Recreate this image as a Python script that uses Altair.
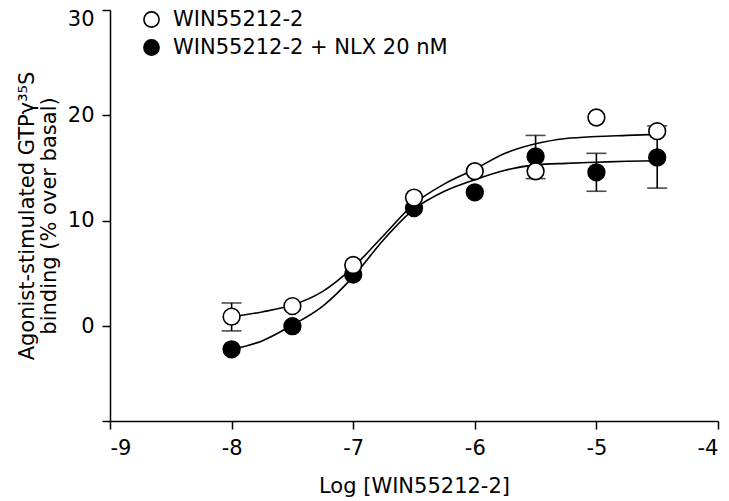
import altair as alt
import pandas as pd

# --- data ---
series_names = ["WIN55212-2", "WIN55212-2 + NLX 20 nM"]
x_vals = [-8, -7.5, -7, -6.5, -6, -5.5, -5, -4.5]
open_y = [0.9, 1.9, 5.8, 12.2, 14.7, 14.7, 19.8, 18.5]
filled_y = [-2.2, 0.0, 4.9, 11.2, 12.7, 16.1, 14.6, 16.0]

# error bars (series, x, low, high)
err_series = ["WIN55212-2", "WIN55212-2 + NLX 20 nM", "WIN55212-2 + NLX 20 nM", "WIN55212-2 + NLX 20 nM"]
err_x = [-8, -5.5, -5, -4.5]
err_lo = [-0.45, 14.0, 12.8, 13.1]
err_hi = [2.2, 18.1, 16.4, 19.0]

# fitted curves
curve_x = [-8, -7.75, -7.5, -7.25, -7, -6.75, -6.5, -6.25, -6, -5.75, -5.5, -5.25, -5, -4.75, -4.5]
curve_open = [0.9, 1.35, 2.0, 3.3, 5.6, 8.6, 11.6, 13.5, 14.9, 16.4, 17.3, 17.8, 18.0, 18.1, 18.2]
curve_filled = [-2.2, -1.4, 0.1, 1.9, 4.7, 8.2, 11.1, 12.8, 13.9, 14.8, 15.3, 15.45, 15.55, 15.65, 15.7]

y_ticks = [-9, 0, 10, 20, 30]
x_ticks = [-9, -8, -7, -6, -5, -4]

pts = pd.DataFrame({
    "x": x_vals + x_vals,
    "y": open_y + filled_y,
    "series": [series_names[0]] * len(x_vals) + [series_names[1]] * len(x_vals),
})
curves = pd.DataFrame({
    "x": curve_x + curve_x,
    "y": curve_open + curve_filled,
    "series": [series_names[0]] * len(curve_x) + [series_names[1]] * len(curve_x),
})
errs = pd.DataFrame({"series": err_series, "x": err_x, "lo": err_lo, "hi": err_hi})

FONT = "DejaVu Sans"
FS = 21

xscale = alt.Scale(domain=[-9, -4], nice=False, zero=False)
yscale = alt.Scale(domain=[-9, 30], nice=False, zero=False)

xaxis = alt.Axis(values=x_ticks, title="Log [WIN55212-2]", grid=False, labelPadding=8,
                 titlePadding=17, labelExpr="toString(datum.value)")
yaxis = alt.Axis(values=y_ticks, title=["Agonist-stimulated GTPγ³⁵S", "binding (% over basal)"],
                 grid=False, labelPadding=8, titlePadding=8, labelFlush=True, labelFlushOffset=2,
                 labelExpr="datum.value == -9 ? '' : toString(datum.value)")

base_x = alt.X("x:Q", scale=xscale, axis=xaxis)
base_y = alt.Y("y:Q", scale=yscale, axis=yaxis)

lines = alt.Chart(curves).mark_line(color="black", strokeWidth=1.6, interpolate="monotone").encode(
    x=base_x, y=base_y, detail="series:N"
)

err_rule = alt.Chart(errs).mark_rule(color="black", strokeWidth=1.6).encode(
    x="x:Q", y="lo:Q", y2="hi:Q"
)
err_cap_lo = alt.Chart(errs).mark_tick(color="black", thickness=1.6, size=20, orient="horizontal").encode(
    x="x:Q", y="lo:Q"
)
err_cap_hi = alt.Chart(errs).mark_tick(color="black", thickness=1.6, size=20, orient="horizontal").encode(
    x="x:Q", y="hi:Q"
)

fill_scale = alt.Scale(domain=series_names, range=["white", "black"])

filled_pts = alt.Chart(pts).transform_filter(
    alt.datum.series == series_names[1]
).mark_point(shape="circle", size=280, stroke="black", strokeWidth=1.6, opacity=1, filled=True).encode(
    x="x:Q", y="y:Q",
    fill=alt.Fill("series:N", scale=fill_scale, legend=alt.Legend(
        title=None, orient="none", legendX=31, legendY=-1, padding=0,
        labelFont=FONT, labelFontSize=FS, labelColor="black", labelOffset=11, labelLimit=500,
        symbolSize=230, symbolStrokeColor="black", symbolStrokeWidth=1.6, symbolType="circle",
        rowPadding=5, symbolOpacity=1,
    )),
)
open_pts = alt.Chart(pts).transform_filter(
    alt.datum.series == series_names[0]
).mark_point(shape="circle", size=280, stroke="black", strokeWidth=1.6, opacity=1, filled=True).encode(
    x="x:Q", y="y:Q",
    fill=alt.Fill("series:N", scale=fill_scale),
)

chart = alt.layer(lines, err_rule, err_cap_lo, err_cap_hi, filled_pts, open_pts).properties(
    width=608, height=411,
    autosize=alt.AutoSizeParams(type="none"),
    padding={"left": 102, "top": 2, "right": 3, "bottom": 80},
).configure_view(stroke=None).configure_axis(
    domainColor="black", tickColor="black", domainWidth=1.5, tickWidth=1.5, tickSize=8,
    labelFont=FONT, labelFontSize=FS, labelColor="black",
    titleFont=FONT, titleFontSize=FS, titleColor="black", titleFontWeight="normal",
    titleLineHeight=22,
)

chart.save("out.html", embed_options={"renderer": "svg", "actions": False})
